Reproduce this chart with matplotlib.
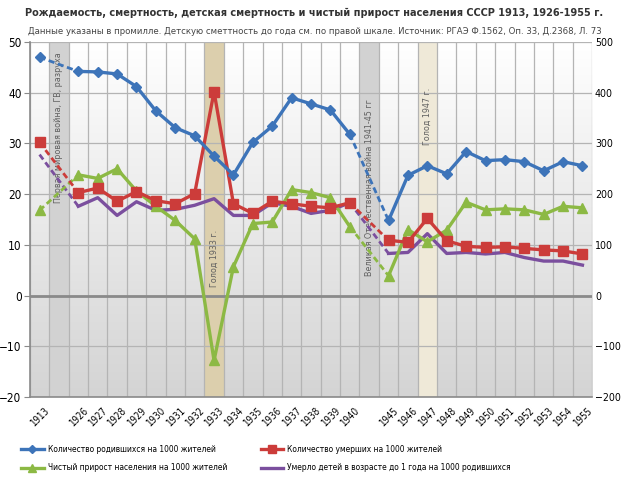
import numpy as np
import matplotlib
matplotlib.use("Agg")
import matplotlib.pyplot as plt
from matplotlib.lines import Line2D
from matplotlib.colors import LinearSegmentedColormap

plt.rcParams['font.family'] = ['DejaVu Sans']
plt.rcParams['font.stretch'] = 'condensed'

years = ['1913', '', '1926', '1927', '1928', '1929', '1930', '1931', '1932', '1933', '1934',
         '1935', '1936', '1937', '1938', '1939', '1940', '', '1945', '1946', '1947', '1948',
         '1949', '1950', '1951', '1952', '1953', '1954', '1955']
nan = np.nan
births = [47.0, nan, 44.2, 44.1, 43.7, 41.2, 36.4, 33.1, 31.5, 27.5, 23.8, 30.2, 33.4, 39.0,
          37.8, 36.6, 31.8, nan, 14.8, 23.7, 25.6, 24.0, 28.4, 26.6, 26.8, 26.4, 24.6, 26.4, 25.6]
deaths = [30.2, nan, 20.3, 21.2, 18.6, 20.5, 18.7, 18.1, 20.1, 40.2, 18.1, 16.2, 18.6, 18.1,
          17.6, 17.3, 18.3, nan, 10.9, 10.5, 15.2, 10.8, 9.7, 9.5, 9.6, 9.3, 9.0, 8.8, 8.2]
growth = [16.8, nan, 23.8, 23.1, 25.0, 20.6, 17.6, 14.8, 11.2, -12.8, 5.7, 14.2, 14.5, 20.9,
          20.3, 19.3, 13.6, nan, 3.9, 13.0, 10.6, 12.9, 18.4, 16.9, 17.1, 16.9, 16.0, 17.6, 17.3]
infant = [278, nan, 176, 193, 158, 185, 168, 170, 178, 191, 158, 158, 183, 176,
          162, 168, 183, nan, 83, 85, 122, 83, 85, 82, 85, 75, 68, 68, 60]

bands = [(1, '#d2d2d2', 'Первая мировая война, ГВ, разруха', 0.76),
         (9, '#dccfad', 'Голод 1933 г.', 0.39),
         (17, '#d2d2d2', 'Великая Отечественная война 1941-45 гг', 0.59),
         (20, '#efe9d8', 'Голод 1947 г.', 0.79)]

fig = plt.figure(figsize=(6.22, 4.8), dpi=100)
ax = fig.add_axes([0.048, 0.173, 0.904, 0.7395])
n = len(years)
x = np.arange(n)
ax.set_xlim(-0.5, n - 0.5)
ax.set_ylim(-20, 50)

grad = np.linspace(0, 1, 256).reshape(-1, 1)
cm = LinearSegmentedColormap.from_list('g', ['#d4d4d4', '#ffffff'])
ax.imshow(grad, extent=[-0.5, n - 0.5, -20, 50], aspect='auto', cmap=cm, zorder=0,
          origin='lower', vmin=0, vmax=1)

for i, c, lab, ypos in bands:
    ax.axvspan(i - 0.5, i + 0.5, color=c, zorder=1, lw=0)

for xv in np.arange(-0.5, n, 1.0):
    ax.axvline(xv, color='#b4b4b4', lw=0.9, zorder=1.5)
for yv in range(-20, 51, 10):
    ax.axhline(yv, color='#b4b4b4', lw=0.9, zorder=1.5)
ax.axhline(0, color='#8a8a8a', lw=2, zorder=1.6)

for i, c, lab, ypos in bands:
    ax.text(i, ypos, lab, rotation=90, transform=ax.get_xaxis_transform(), ha='center',
            va='center', fontsize=6.4, color='#606060', zorder=2)

ax2 = ax.twinx()
ax2.set_ylim(-200, 500)
ax2.set_zorder(ax.get_zorder() + 1)
ax2.patch.set_visible(False)

def draw(axx, vals, color, marker, ms):
    v = np.array(vals, dtype=float)
    for a, b in [(2, 16), (18, n - 1)]:
        axx.plot(x[a:b + 1], v[a:b + 1], color=color, lw=2.4, marker=marker, ms=ms,
                 zorder=3, solid_joinstyle='round')
    for a, b in [(0, 2), (16, 18)]:
        axx.plot([x[a], x[b]], [v[a], v[b]], color=color, lw=2.0, ls=(0, (2.2, 1.3)), zorder=3)
    if marker:
        axx.plot(x[[0]], v[[0]], color=color, marker=marker, ms=ms, lw=0, zorder=3)

BLUE, RED, GREEN, PURPLE = '#3d74b9', '#cc3c3a', '#8cb944', '#7b4f9e'
draw(ax2, np.array(infant, dtype=float), PURPLE, None, 0)
draw(ax2, np.array(growth, dtype=float) * 10, GREEN, '^', 7)
draw(ax2, np.array(deaths, dtype=float) * 10, RED, 's', 7)
draw(ax2, np.array(births, dtype=float) * 10, BLUE, 'D', 5.5)

ax.set_xticks(x)
ax.set_xticklabels(years, rotation=45, fontsize=7)
ax.tick_params(axis='x', length=0, pad=6)
ax.set_yticks(range(-20, 51, 10))
ax.tick_params(axis='y', labelsize=8.5, length=4, color='#8a8a8a', pad=2)
ax2.set_yticks(range(-200, 501, 100))
ax2.tick_params(axis='y', labelsize=7.6, length=0, pad=2)
for a in (ax, ax2):
    for s in a.spines.values():
        s.set_visible(False)
for side in ('left', 'bottom'):
    ax.spines[side].set_visible(True)
    ax.spines[side].set_color('#8a8a8a')
    ax.spines[side].set_linewidth(1.2)

fig.text(0.04, 0.972, 'Рождаемость, смертность, детская смертность и чистый прирост населения СССР 1913, 1926-1955 г.',
         fontsize=7.8, fontweight='bold', color='#333333', va='center')
fig.text(0.045, 0.935, 'Данные указаны в промилле. Детскую сметтность до года см. по правой шкале. Источник: РГАЭ Ф.1562, Оп. 33, Д.2368, Л. 73',
         fontsize=6.8, color='#444444', va='center')

handles = [Line2D([], [], color=BLUE, marker='D', ms=4, lw=2.4),
           Line2D([], [], color=RED, marker='s', ms=6, lw=2.4),
           Line2D([], [], color=GREEN, marker='^', ms=6, lw=2.4),
           Line2D([], [], color=PURPLE, lw=2.4)]
labels = ['Количество родившихся на 1000 жителей', 'Количество умерших на 1000 жителей',
          'Чистый прирост населения на 1000 жителей', 'Умерло детей в возрасте до 1 года на 1000 родившихся']
fig.legend([handles[0], handles[2], handles[1], handles[3]],
           [labels[0], labels[2], labels[1], labels[3]],
           loc='lower left', bbox_to_anchor=(0.022, 0.0), ncol=2, frameon=False,
           fontsize=6.0, handlelength=2.7, columnspacing=4.0, labelspacing=1.1,
           handletextpad=0.5)

fig.savefig('out.png', dpi=100)
